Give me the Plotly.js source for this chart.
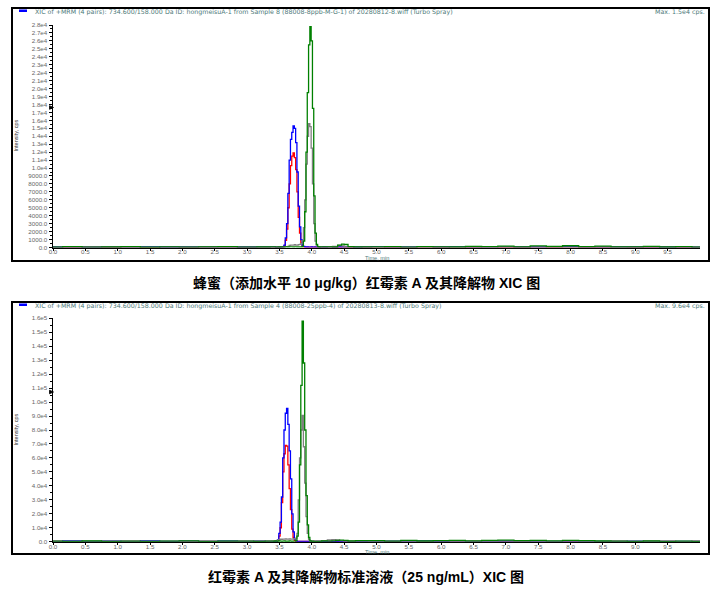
<!DOCTYPE html>
<html>
<head>
<meta charset="utf-8">
<script src="https://cdn.plot.ly/plotly-3.0.1.min.js"></script>
<style>html,body{margin:0;padding:0;background:#fff;}#chart{width:721px;height:590px;}</style>
</head>
<body>
<div id="chart"></div>
<script>
// ---------- DATA: top panel (honey sample, 10 µg/kg) ----------
const timeTop = [0.0,0.3,0.6,0.9,1.2,1.5,1.8,2.1,2.4,2.7,3.0,3.3,3.42,3.46,
  3.50,3.52,3.54,3.56,3.58,3.60,3.62,3.64,3.66,3.68,3.70,3.72,3.74,3.76,3.78,3.80,3.82,3.84,3.86,3.88,3.90,3.92,3.94,3.96,3.98,4.00,4.02,4.04,4.06,4.08,4.10,4.12,4.14,
  4.20,4.28,4.36,4.44,4.48,4.52,4.60,4.70,4.85,
  5.0,5.25,5.5,5.75,6.0,6.25,6.5,6.75,7.0,7.25,7.5,7.75,8.0,8.25,8.5,8.75,9.0,9.25,9.5,9.75,10.0];
const blueTop = [60,90,50,80,70,100,60,90,70,80,60,90,70,50,
  40,30,50,100,300,1200,3000,6800,11000,13600,14500,15300,15000,13200,9500,5200,2600,1000,300,150,80,50,60,40,50,60,40,50,60,40,50,60,50,
  60,80,50,70,60,80,90,60,80,
  100,70,90,120,80,100,90,70,110,90,80,100,120,90,80,70,90,80,60,70,50];
const redTop = [40,20,50,30,40,20,50,30,40,60,30,40,50,30,
  30,40,30,50,200,900,2300,5000,8000,10300,11500,11900,11300,9800,7000,3800,1800,600,150,60,40,30,40,30,20,40,30,40,20,30,40,30,20,
  30,40,20,30,40,30,20,40,30,
  40,30,20,40,30,50,30,40,20,30,40,30,50,30,20,40,30,20,40,30,20];
const greenTop = [50,100,40,60,120,30,90,50,80,110,40,60,90,50,
  60,80,70,90,60,80,70,60,90,80,70,60,80,70,60,80,60,50,150,800,4500,12000,19500,25500,27800,26000,17500,6500,1800,400,100,60,80,
  70,90,60,300,420,380,120,60,90,
  70,110,50,120,90,60,130,100,180,90,200,130,220,110,180,90,70,130,60,100,50];
const greyTop = [30,50,40,60,30,50,40,30,60,40,50,30,40,50,
  40,30,50,40,60,80,100,150,250,300,300,300,350,300,300,350,400,500,900,2500,6000,10500,14000,15600,15200,12500,8000,3000,800,200,100,60,50,
  40,60,150,280,200,60,40,50,30,
  40,50,30,60,40,50,30,40,60,50,40,30,50,40,60,30,40,50,30,40,30];

// ---------- DATA: bottom panel (standard solution, 25 ng/mL) ----------
const timeBottom = [0.0,0.3,0.6,0.9,1.2,1.5,1.8,2.1,2.4,2.7,3.0,3.2,3.36,
  3.40,3.42,3.44,3.46,3.48,3.50,3.52,3.54,3.56,3.58,3.60,3.62,3.64,3.66,3.68,3.70,3.72,3.74,3.76,3.78,3.80,3.82,3.84,3.86,3.88,3.90,3.92,3.94,3.96,3.98,4.00,4.02,4.04,
  4.10,4.20,4.28,4.34,4.40,4.46,4.52,4.60,4.75,
  5.0,5.25,5.5,5.75,6.0,6.25,6.5,6.75,7.0,7.25,7.5,7.75,8.0,8.25,8.5,8.75,9.0,9.25,9.5,9.75,10.0];
const blueBottom = [300,500,200,400,300,600,200,400,300,500,300,400,300,
  300,200,200,500,1500,6000,14000,32000,60000,80000,92000,95500,84000,65000,45000,20000,7000,2000,800,300,150,200,300,200,300,200,300,200,300,400,200,300,200,
  300,200,400,300,200,300,400,200,300,
  300,400,200,500,300,400,200,300,500,400,300,200,400,300,200,300,400,200,300,200,300];
const redBottom = [200,300,100,200,300,200,100,300,200,100,200,300,200,
  200,100,200,300,1000,4000,10000,28000,50000,63000,69000,68500,55000,38000,23000,9000,3000,800,200,100,200,100,200,300,100,200,100,200,100,200,300,100,200,
  200,100,200,300,100,200,100,200,300,
  200,100,300,200,100,200,300,100,200,300,200,100,200,300,100,200,100,200,300,100,200];
const greenBottom = [400,200,500,300,450,200,400,550,300,450,400,300,450,
  400,300,500,400,300,500,400,300,400,500,300,400,300,500,400,300,400,400,800,4000,14000,55000,112000,158000,128000,80000,33000,12000,3000,600,200,400,300,
  300,500,400,600,900,1100,900,500,700,
  800,400,900,500,800,1000,600,900,1100,700,1000,600,900,800,500,400,300,500,300,400,300];
const greyBottom = [300,200,400,300,200,300,400,200,300,450,300,400,300,
  400,500,600,800,1200,1500,1800,1700,1900,1800,2000,1900,1800,2000,1900,1800,2000,2100,2500,6000,30000,60000,80000,90500,68000,42000,18000,6000,1500,500,300,400,300,
  400,700,1200,1500,1300,800,500,300,400,
  300,400,200,300,400,300,200,300,400,300,200,300,400,300,200,300,400,300,200,300,200];

// ---------- tick labels ----------
const xTickVals = [0,0.5,1,1.5,2,2.5,3,3.5,4,4.5,5,5.5,6,6.5,7,7.5,8,8.5,9,9.5];
const xTickText = ['0.0','0.5','1.0','1.5','2.0','2.5','3.0','3.5','4.0','4.5','5.0','5.5','6.0','6.5','7.0','7.5','8.0','8.5','9.0','9.5'];
const yTopVals = [0,1000,2000,3000,4000,5000,6000,7000,8000,9000,10000,11000,12000,13000,14000,15000,16000,17000,18000,19000,20000,21000,22000,23000,24000,25000,26000,27000,28000];
const yTopText = ['0.0','1000.0','2000.0','3000.0','4000.0','5000.0','6000.0','7000.0','8000.0','9000.0','1.0e4','1.1e4','1.2e4','1.3e4','1.4e4','1.5e4','1.6e4','1.7e4','1.8e4','1.9e4','2.0e4','2.1e4','2.2e4','2.3e4','2.4e4','2.5e4','2.6e4','2.7e4','2.8e4'];
const yBotVals = [0,10000,20000,30000,40000,50000,60000,70000,80000,90000,100000,110000,120000,130000,140000,150000,160000];
const yBotText = ['0.0','1.0e4','2.0e4','3.0e4','4.0e4','5.0e4','6.0e4','7.0e4','8.0e4','9.0e4','1.0e5','1.1e5','1.2e5','1.3e5','1.4e5','1.5e5','1.6e5'];

const headerTop = 'XIC of +MRM (4 pairs): 734.600/158.000 Da ID: hongmeisuA-1 from Sample 8 (88008-8ppb-M-G-1) of 20280812-8.wiff (Turbo Spray)';
const headerBot = 'XIC of +MRM (4 pairs): 734.600/158.000 Da ID: hongmeisuA-1 from Sample 4 (88008-25ppb-4) of 20280813-8.wiff (Turbo Spray)';
const maxTop = 'Max. 1.5e4 cps.';
const maxBot = 'Max. 9.6e4 cps.';
const captionTop = '蜂蜜（添加水平 10 μg/kg）红霉素 A 及其降解物 XIC 图';
const captionBot = '红霉素 A 及其降解物标准溶液（25 ng/mL）XIC 图';

// ---------- build ----------
const W = 721, H = 590;
const px = v => v / W;
const py = v => 1 - v / H;
const colors = {blue:'#0000ff', red:'#ff0000', green:'#008000', grey:'#808080'};
function tr(x, y, c, xa, ya){
  return {x:x, y:y, type:'scatter', mode:'lines', line:{color:c, width:1.3, shape:'hvh'},
          xaxis:xa, yaxis:ya, hoverinfo:'skip', showlegend:false};
}
const data = [
  tr(timeTop, redTop, colors.red, 'x', 'y'),
  tr(timeTop, blueTop, colors.blue, 'x', 'y'),
  tr(timeTop, greyTop, colors.grey, 'x', 'y'),
  tr(timeTop, greenTop, colors.green, 'x', 'y'),
  tr(timeBottom, redBottom, colors.red, 'x2', 'y2'),
  tr(timeBottom, blueBottom, colors.blue, 'x2', 'y2'),
  tr(timeBottom, greyBottom, colors.grey, 'x2', 'y2'),
  tr(timeBottom, greenBottom, colors.green, 'x2', 'y2')
];

const tickFont = {family:'Liberation Sans, Arial, sans-serif', size:6.2, color:'#666666'};
function xax(anchor){
  return {domain:[px(53), px(700)], anchor:anchor, range:[0,10], tickmode:'array',
    tickvals:xTickVals, ticktext:xTickText, ticks:'outside', ticklen:2, tickwidth:1, tickcolor:'#000',
    ticklabelstandoff:-4,
    showline:true, linecolor:'#000', linewidth:1.5, showgrid:false, zeroline:false,
    tickfont:tickFont, automargin:false, fixedrange:true};
}
function yax(anchor, dom, rng, vals, text, minorDt){
  return {domain:dom, anchor:anchor, range:rng, tickmode:'array', tickvals:vals, ticktext:text,
    ticks:'outside', ticklen:3, tickwidth:1, tickcolor:'#000',
    minor:{tickmode:'linear', tick0:0, dtick:minorDt, ticks:'outside', ticklen:2, tickwidth:1, tickcolor:'#000'},
    showline:true, linecolor:'#000', linewidth:1.5, showgrid:false, zeroline:false,
    tickfont:tickFont, automargin:false, fixedrange:true};
}

const hdrFont = {family:'DejaVu Sans, Liberation Sans, sans-serif', size:6.3, color:'#4e7a7a'};
const capFont = {family:'Liberation Sans, Noto Sans CJK SC, sans-serif', size:14, color:'#000', weight:'bold'};
function ann(x, y, text, font, opts){
  return Object.assign({xref:'paper', yref:'paper', x:x, y:y, text:text, showarrow:false, font:font,
    xanchor:'center', yanchor:'middle'}, opts||{});
}
const smallFont = {family:'Liberation Sans, Arial, sans-serif', size:5.6, color:'#4e7a7a'};
const annotations = [
  ann(px(33), py(11.8), headerTop, hdrFont, {xanchor:'left'}),
  ann(px(707), py(11.8), maxTop, hdrFont, {xanchor:'right'}),
  ann(px(377), py(258), 'Time, min', smallFont),
  ann(px(15.5), py(136), 'Intensity, cps', {family:'Liberation Sans, Arial, sans-serif', size:5.5, color:'#333'}, {textangle:-90}),
  ann(px(366), py(283), captionTop, capFont),
  ann(px(33), py(305.8), headerBot, hdrFont, {xanchor:'left'}),
  ann(px(707), py(305.8), maxBot, hdrFont, {xanchor:'right'}),
  ann(px(377), py(551.5), 'Time, min', smallFont),
  ann(px(15.5), py(430), 'Intensity, cps', {family:'Liberation Sans, Arial, sans-serif', size:5.5, color:'#333'}, {textangle:-90}),
  ann(px(366), py(577), captionBot, capFont)
];

function rect(x0,y0,x1,y1,line,fill){
  return {type:'rect', xref:'paper', yref:'paper', x0:px(x0), x1:px(x1), y0:py(y1), y1:py(y0),
    line:line, fillcolor:fill||'rgba(0,0,0,0)', layer:'below'};
}
function flagAt(yPix){
  return {type:'path', xref:'paper', yref:'paper', layer:'above',
    path:'M '+px(49.5)+','+py(yPix-1.8)+' L '+px(53.5)+','+py(yPix)+' L '+px(49.5)+','+py(yPix+1.8)+' Z',
    fillcolor:'#000', line:{color:'#000', width:0.8}};
}
const shapes = [
  rect(12,8,709,261,{color:'#000', width:2}),
  rect(12,302,709,554,{color:'#000', width:2}),
  rect(19,9.5,27,12,{color:'#0000ff', width:0},'#0000ff'),
  rect(19,303.5,27,306,{color:'#0000ff', width:0},'#0000ff'),
  flagAt(107.5),
  flagAt(392)
];

const layout = {
  width:W, height:H, margin:{l:0,r:0,t:0,b:0}, paper_bgcolor:'#fff', plot_bgcolor:'rgba(0,0,0,0)',
  showlegend:false,
  xaxis: xax('y'),
  yaxis: yax('x', [py(247.5), py(25)], [0, 28000], yTopVals, yTopText, 500),
  xaxis2: xax('y2'),
  yaxis2: yax('x2', [py(541.7), py(318.3)], [0, 160000], yBotVals, yBotText, 5000),
  annotations: annotations,
  shapes: shapes
};
Plotly.newPlot('chart', data, layout, {staticPlot:true, displayModeBar:false});
</script>
</body>
</html>
